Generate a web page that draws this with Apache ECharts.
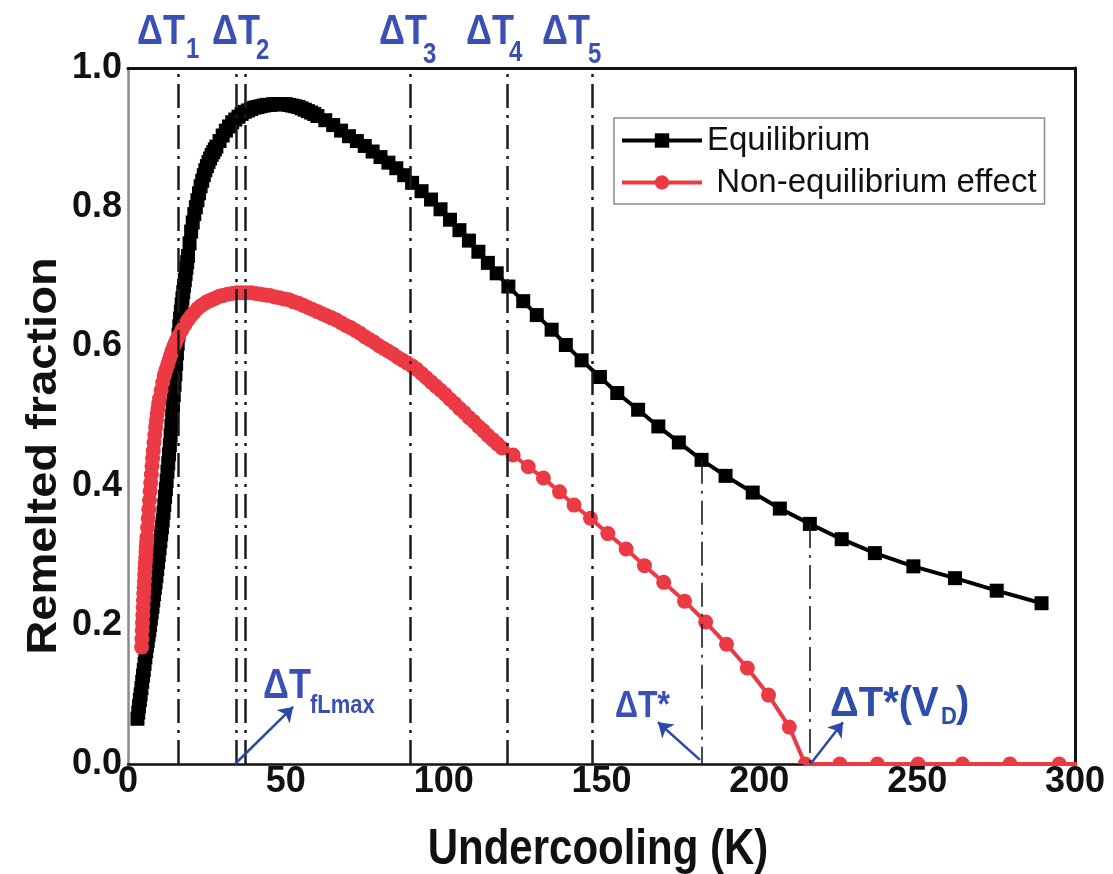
<!DOCTYPE html>
<html>
<head>
<meta charset="utf-8">
<script src="https://cdn.jsdelivr.net/npm/echarts@6/dist/echarts.min.js"></script>
<style>
  html, body { margin: 0; padding: 0; background: #fff; }
  #main { width: 1113px; height: 874px; }
</style>
</head>
<body>
<div id="main"></div>
<script>
// axis ticks
var xTicks = [0, 50, 100, 150, 200, 250, 300];
var yTicks = [0, 0.2, 0.4, 0.6, 0.8, 1.0];

// Equilibrium (black squares): [undercooling K, remelted fraction]
var eqPoints = [
  [3, .065], [3.25, .074], [3.5, .083], [3.75, .092], [4, .100], [4.25, .109], [4.5, .118], [4.75, .127],
  [5, .135], [5.25, .144], [5.5, .153], [5.75, .162], [6, .170], [6.25, .177], [6.5, .185], [6.75, .192],
  [7, .200], [7.25, .209], [7.5, .218], [7.75, .226], [8, .235], [8.25, .244], [8.5, .253], [8.75, .261],
  [9, .270], [9.25, .280], [9.5, .290], [9.75, .300], [10, .310], [10.25, .320], [10.5, .330], [10.75, .340],
  [11, .350], [11.25, .361], [11.5, .372], [11.75, .384], [12, .395], [12.25, .407], [12.5, .420], [12.75, .432],
  [13, .445], [13.25, .458], [13.5, .472], [13.75, .486], [14, .500], [14.25, .515], [14.5, .530], [14.75, .545],
  [15, .560], [15.25, .575], [15.5, .590], [15.75, .604], [16, .617], [16.25, .629], [16.5, .640], [16.75, .650],
  [17, .660], [17.25, .669], [17.5, .678], [17.75, .687], [18, .695], [18.25, .704], [18.5, .713], [18.75, .721],
  [19, .730], [19.5, .748], [20, .765], [20.5, .778], [21, .790], [21.5, .800], [22, .810], [22.5, .820],
  [23, .830], [23.5, .838], [24, .846], [24.5, .853], [25, .859], [25.5, .865], [26, .870], [26.5, .875],
  [27, .879], [27.5, .883], [28, .887], [29, .895], [30, .903], [31, .910], [32, .916], [33, .922],
  [34, .926], [35, .930], [36, .934], [37, .937], [38, .939], [39, .941], [40, .943], [41, .944],
  [42, .945], [43, .946], [44, .947], [45, .947], [46, .948], [47, .948], [48, .948], [49, .948],
  [50, .948], [51, .947], [52, .946], [53, .945], [54, .944], [55, .942], [56, .940], [57, .938],
  [58, .936], [59, .934], [60, .931], [62.5, .925], [65, .918], [67.5, .910], [70, .902], [72.5, .895],
  [75, .888], [77.5, .880], [80, .872], [82.5, .864], [85, .856], [87.5, .846], [90, .835], [93, .823],
  [96, .811], [99, .797], [102, .782], [105, .767], [108, .752], [111, .736], [114, .720], [116.8, .705],
  [120.5, .686], [125.2, .665], [129.5, .645], [134.2, .624], [138.7, .602], [143.7, .580], [149.5, .556],
  [155, .533], [161.6, .509], [168, .485], [174.5, .462], [181.7, .437], [189.3, .414], [197.9, .390],
  [206.5, .367], [216, .345], [226.1, .323], [236.6, .303], [248.8, .284], [262, .267], [275.2, .249], [289.4, .231]
];

// Non-equilibrium effect (red circles)
var neqPoints = [
  [4.3, .168], [4.4, .180], [4.5, .192], [4.6, .203], [4.7, .214], [4.8, .225], [4.9, .235], [5, .245],
  [5.1, .254], [5.2, .263], [5.3, .272], [5.4, .281], [5.5, .289], [5.6, .297], [5.7, .305], [5.8, .312],
  [5.9, .319], [6, .326], [6.2, .340], [6.4, .353], [6.6, .366], [6.8, .379], [7, .392], [7.2, .404],
  [7.4, .416], [7.6, .428], [7.8, .439], [8, .450], [8.25, .462], [8.5, .473], [8.75, .484], [9, .494],
  [9.25, .503], [9.5, .511], [9.75, .518], [10, .525], [10.5, .537], [11, .548], [11.5, .558], [12, .566],
  [12.5, .573], [13, .580], [13.5, .587], [14, .594], [14.5, .600], [15, .605], [15.5, .610], [16, .615],
  [17, .623], [18, .631], [19, .638], [20, .644], [21, .649], [22, .654], [23, .658], [24, .661],
  [25, .664], [26, .666], [27, .668], [28, .670], [29, .672], [30, .673], [31.5, .675], [33, .676],
  [34.5, .677], [36, .677], [37.5, .677], [39, .677], [40.5, .676], [42, .675], [43.5, .674], [45, .673],
  [46.5, .671], [48, .670], [49.5, .668], [51, .667], [52.5, .664], [54, .662], [55.5, .659], [57, .656],
  [58.5, .653], [60, .650], [61.5, .647], [63, .644], [64.5, .641], [66, .638], [67.5, .634], [69, .630],
  [70.5, .627], [72, .623], [73.5, .619], [75, .614], [76.5, .610], [78, .606], [79.5, .601], [81, .597],
  [82.5, .593], [84, .589], [85.5, .584], [87, .580], [88.5, .576], [90, .572], [91.5, .567], [93, .561],
  [94.5, .555], [96, .549], [97.5, .543], [99, .537], [100.5, .531], [102, .524], [103.5, .518], [105, .511],
  [106.5, .505], [108, .498], [109.5, .492], [111, .485], [112.5, .479], [114, .472], [115.5, .466], [117, .460],
  [118.5, .454], [122, .444], [126.8, .427], [131.6, .411], [136.7, .391], [141.3, .372], [146.5, .353],
  [152, .331], [157.8, .309], [163.6, .285], [169.7, .261], [176.3, .234], [183, .204], [189.6, .172],
  [196.2, .138], [202.9, .099], [209.5, .053], [214.5, 0], [225.5, 0], [237.4, 0], [250.3, 0],
  [264.3, 0], [279.4, 0], [295, 0], [311, 0]
];

// characteristic undercoolings (dash-dot guides)
var deltaT = [15.8, 34.2, 37.3, 89.5, 120.3, 147.2];
var deltaTStar = [181.7, 216];   // guide from equilibrium curve down to axis

var FONT = '"Liberation Sans", Arial, sans-serif';
var BLUE = '#3b50b4';
var halfCircle = 'path://M0,10A10,10,0,0,1,20,10Z';

var neqData = neqPoints.map(function (p) {
  if (p[1] === 0) {
    // markers sitting on the axis are cut in half in the original
    return { value: p, symbol: halfCircle, symbolSize: [15, 7.5], symbolOffset: [0, -3.75] };
  }
  return p;
});

function eqAt(x) {
  for (var i = 0; i < eqPoints.length; i++) if (eqPoints[i][0] === x) return eqPoints[i][1];
  return 0;
}

var guides = deltaT.map(function (v) { return { xAxis: v }; });
deltaTStar.forEach(function (v) {
  guides.push([{ coord: [v, eqAt(v)], lineStyle: { width: 1.6 } }, { coord: [v, 0] }]);
});
// blue arrows pointing at the annotations
[[[33.9, 0], [52.3, 0.082]], [[181.2, 0.006], [167.9, 0.06]], [[216.2, 0], [226.5, 0.06]]].forEach(function (a) {
  guides.push([
    { coord: a[0], symbol: 'none', lineStyle: { color: '#2c48a8', width: 2.5, type: 'solid' } },
    { coord: a[1], symbol: 'arrow', symbolSize: 14 }
  ]);
});

function txt(x, y, text, size, color, extra) {
  var el = {
    type: 'text', x: x, y: y, z: 100,
    style: {
      text: text, fill: color, font: 'bold ' + size + 'px ' + FONT,
      textAlign: 'left', textVerticalAlign: 'middle'
    }
  };
  for (var k in (extra || {})) el[k] = extra[k];
  return el;
}

var chart = echarts.init(document.getElementById('main'));
var option = {
  animation: false,
  backgroundColor: '#fff',
  grid: { left: 128, top: 68, width: 947, height: 696, containLabel: false },
  legend: {
    data: ['Equilibrium', 'Non-equilibrium effect'],
    orient: 'vertical',
    left: 614, top: 118,
    padding: [6, 8, 5, 6],
    itemWidth: 80, itemHeight: 18, itemGap: 9,
    borderColor: '#8c8c8c', borderWidth: 1.5,
    lineStyle: { width: 4 },
    textStyle: { fontFamily: FONT, fontSize: 33, color: '#111' },
    formatter: function (n) { return n === 'Non-equilibrium effect' ? ' ' + n : n; }
  },
  xAxis: [{
    type: 'value', min: xTicks[0], max: xTicks[xTicks.length - 1], interval: 50,
    axisLine: { lineStyle: { color: '#111', width: 2.5 } },
    axisTick: { show: false },
    splitLine: { show: false },
    axisLabel: { margin: 0, color: '#111', fontFamily: FONT, fontWeight: 'bold', fontSize: 36 }
  }, {
    type: 'value', position: 'top', min: 0, max: 300,
    axisLine: { onZero: false, lineStyle: { color: '#111', width: 3 } },
    axisTick: { show: false }, axisLabel: { show: false }, splitLine: { show: false }
  }],
  yAxis: [{
    type: 'value', min: yTicks[0], max: yTicks[yTicks.length - 1], interval: 0.2,
    axisLine: { show: true, onZero: false, lineStyle: { color: '#8a8a8a', width: 2.5 } },
    axisTick: { show: false },
    splitLine: { show: false },
    axisLabel: {
      margin: 6, color: '#111', fontFamily: FONT, fontWeight: 'bold', fontSize: 36,
      formatter: function (v) { return v.toFixed(1); }
    }
  }, {
    type: 'value', position: 'right', min: 0, max: 1,
    axisLine: { show: true, onZero: false, lineStyle: { color: '#111', width: 3 } },
    axisTick: { show: false }, axisLabel: { show: false }, splitLine: { show: false }
  }],
  series: [{
    name: 'Equilibrium', type: 'line', data: eqPoints,
    symbol: 'rect', symbolSize: 14, showAllSymbol: true,
    lineStyle: { color: '#000', width: 4 },
    itemStyle: { color: '#000' }, z: 3
  }, {
    name: 'Non-equilibrium effect', type: 'line', data: neqData,
    symbol: 'circle', symbolSize: 15, showAllSymbol: true,
    lineStyle: { color: '#ec3a44', width: 4 },
    itemStyle: { color: '#ec3a44' }, z: 4
  }, {
    name: 'guides', type: 'line', data: [], z: 10,
    markLine: {
      silent: true, animation: false, symbol: ['none', 'none'],
      label: { show: false },
      lineStyle: { color: '#1c1c1c', width: 2.5, type: [24, 7, 3, 7] },
      data: guides
    }
  }],
  graphic: [
    // top labels
    txt(137, 32, 'ΔT', 36, BLUE, { scaleY: 1.2 }), txt(186, 50, '1', 24, BLUE, { scaleY: 1.2 }),
    txt(212, 32, 'ΔT', 36, BLUE, { scaleY: 1.2 }), txt(256, 51, '2', 24, BLUE, { scaleY: 1.2 }),
    txt(379, 32, 'ΔT', 36, BLUE, { scaleY: 1.2 }), txt(423, 55, '3', 24, BLUE, { scaleY: 1.2 }),
    txt(466, 32, 'ΔT', 36, BLUE, { scaleY: 1.2 }), txt(509, 53, '4', 24, BLUE, { scaleY: 1.2 }),
    txt(542, 32, 'ΔT', 36, BLUE, { scaleY: 1.2 }), txt(588, 55, '5', 24, BLUE, { scaleY: 1.2 }),
    // bottom labels
    txt(263, 686, 'ΔT', 36, BLUE, { scaleY: 1.2 }), txt(310, 706, 'fLmax', 22, BLUE, { scaleY: 1.15 }),
    txt(615, 707, 'ΔT*', 32, BLUE, { scaleY: 1.15 }),
    txt(830, 704, 'ΔT*(V', 40, '#2d4cac', { scaleY: 1.05 }),
    txt(941, 717, 'D', 22, '#2d4cac', { scaleY: 1.1 }),
    txt(956, 704, ')', 40, '#2d4cac', { scaleY: 1.05 }),
    // axis names
    {
      type: 'text', x: 598, y: 850, scaleY: 1.2,
      style: { text: 'Undercooling (K)', fill: '#111', font: 'bold 42px ' + FONT, textAlign: 'center', textVerticalAlign: 'middle' }
    },
    {
      type: 'text', x: 44, y: 456, rotation: Math.PI / 2, scaleX: 1.12,
      style: { text: 'Remelted fraction', fill: '#111', font: 'bold 42px ' + FONT, textAlign: 'center', textVerticalAlign: 'middle' }
    }
  ]
};
chart.setOption(option);
</script>
</body>
</html>
